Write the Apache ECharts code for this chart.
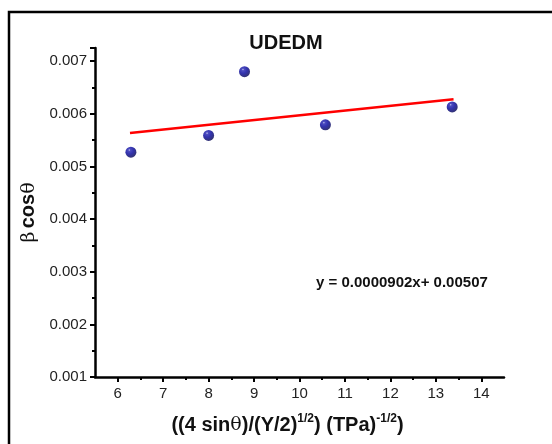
<!DOCTYPE html>
<html>
<head>
<meta charset="utf-8">
<script src="https://cdn.jsdelivr.net/npm/echarts@6/dist/echarts.min.js"></script>
<style>
  html, body { margin: 0; padding: 0; background: #fff; }
  #chart { width: 552px; height: 444px; }
</style>
</head>
<body>
<div id="chart"></div>
<script>
// measured points (x, beta cos theta)
const xVals = [6.29, 8.0, 8.79, 10.57, 13.36];
const yVals = [0.00527, 0.00559, 0.00680, 0.00579, 0.00613];
// linear fit end points
const fitX = [6.27, 13.39];
const fitY = [0.005636, 0.006278];
const fitLabel = 'y = 0.0000902x+ 0.00507';
// x axis ticks
const xTicks = [6, 7, 8, 9, 10, 11, 12, 13, 14];
const xMinorTicks = [6.5, 7.5, 8.5, 9.5, 10.5, 11.5, 12.5, 13.5];

const font = '"Liberation Sans", Arial, sans-serif';
const serif = '"DejaVu Serif", serif';

const chart = echarts.init(document.getElementById('chart'));

const ballColor = new echarts.graphic.RadialGradient(0.36, 0.3, 0.72, [
  { offset: 0, color: '#b8b8ee' },
  { offset: 0.15, color: '#2020b0' },
  { offset: 0.5, color: '#00009a' },
  { offset: 1, color: '#000050' }
]);

const axisBase = {
  type: 'value',
  min: 5.5,
  max: 14.5,
  interval: 0.5,
  splitLine: { show: false }
};

const option = {
  backgroundColor: '#fff',
  animation: false,
  title: {
    text: 'UDEDM',
    left: 281,
    textAlign: 'center',
    top: 28,
    textStyle: { fontFamily: font, fontSize: 20, fontWeight: 'bold', color: '#111' }
  },
  graphic: [
    {
      type: 'rect',
      shape: { x: 9, y: 12, width: 600, height: 500 },
      style: { fill: 'none', stroke: '#000', lineWidth: 2.5 }
    },
    {
      type: 'text',
      left: 316,
      top: 275,
      style: { text: fitLabel, font: 'bold 15px ' + font, fill: '#111' }
    }
  ],
  grid: { left: 95, right: 48, top: 48, bottom: 67 },
  xAxis: [
    Object.assign({}, axisBase, {
      axisLine: { lineStyle: { color: '#000', width: 2.5 } },
      axisTick: { show: true, length: 5, customValues: xTicks, lineStyle: { color: '#000', width: 2 } },
      axisLabel: {
        fontFamily: font, fontSize: 15, color: '#222', margin: 9,
        customValues: xTicks
      },
      name: '{b|((4 sin}{s|θ}{b|)/(Y/2)}{sup|1/2}{b|) (TPa)}{sup|-1/2}{b|)}',
      nameLocation: 'middle',
      nameGap: 36,
      nameTextStyle: {
        padding: [0, 24, 0, 0],
        rich: {
          b: { fontFamily: font, fontSize: 20, fontWeight: 'bold', color: '#111', lineHeight: 24 },
          s: { fontFamily: serif, fontSize: 19, color: '#111', lineHeight: 24 },
          sup: { fontFamily: font, fontSize: 12, fontWeight: 'bold', color: '#111', verticalAlign: 'top', lineHeight: 13 }
        }
      }
    }),
    Object.assign({}, axisBase, {
      position: 'bottom',
      axisLine: { show: false },
      axisTick: { show: true, length: 3, customValues: xMinorTicks, lineStyle: { color: '#000', width: 2 } },
      axisLabel: { show: false }
    })
  ],
  yAxis: {
    type: 'value',
    min: 0.001,
    max: 0.00725,
    interval: 0.001,
    splitLine: { show: false },
    axisLine: { show: true, lineStyle: { color: '#000', width: 2.5 } },
    axisTick: { show: true, length: 5, lineStyle: { color: '#000', width: 2 } },
    minorTick: { show: true, splitNumber: 2, length: 3, lineStyle: { color: '#000', width: 2 } },
    axisLabel: {
      fontFamily: font, fontSize: 15, color: '#222', margin: 8,
      showMaxLabel: false,
      formatter: v => v.toFixed(3)
    },
    name: '{s|β} {b|cos}{s|θ}',
    nameLocation: 'middle',
    nameGap: 53,
    nameRotate: 90,
    nameTextStyle: {
      rich: {
        b: { fontFamily: font, fontSize: 20, fontWeight: 'bold', color: '#111' },
        s: { fontFamily: serif, fontSize: 19, color: '#111' }
      }
    }
  },
  series: [
    {
      name: 'fit',
      type: 'line',
      data: fitX.map((x, i) => [x, fitY[i]]),
      showSymbol: false,
      lineStyle: { color: '#ff0000', width: 2.5 },
      z: 2
    },
    {
      name: 'data',
      type: 'scatter',
      data: xVals.map((x, i) => [x, yVals[i]]),
      symbol: 'circle',
      symbolSize: 11,
      itemStyle: { color: ballColor },
      z: 3
    }
  ]
};

chart.setOption(option);
</script>
</body>
</html>
